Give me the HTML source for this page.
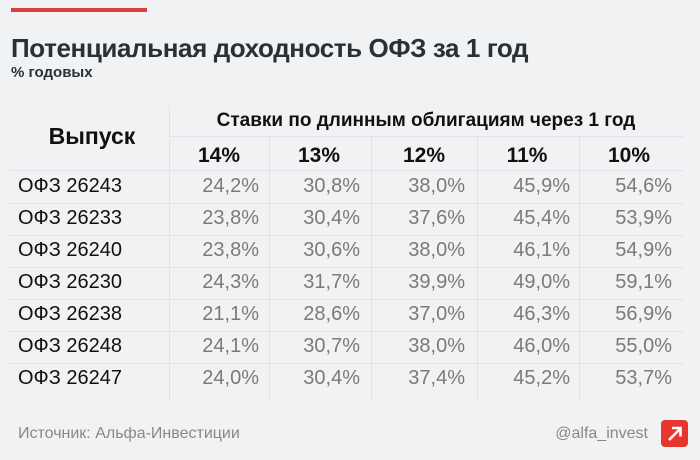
<!DOCTYPE html>
<html><head><meta charset="utf-8"><style>
body{margin:0;width:700px;height:460px;background:#f1f2f4;font-family:"Liberation Sans","DejaVu Sans",sans-serif;position:relative;overflow:hidden}
.a{position:absolute;white-space:nowrap}
.vl{position:absolute;width:1px;background:#e2e3e6}
.hl{position:absolute;height:1px;background:#e2e3e6}
.v{position:absolute;text-align:right;width:92px;font-size:20px;color:#7a7a7a}
.l{position:absolute;left:18px;font-size:20px;color:#111}
.h{position:absolute;text-align:center;width:100px;font-size:21px;font-weight:bold;color:#111;top:144px}
</style></head><body>
<div class="a" style="left:11px;top:8px;width:136px;height:4px;background:#d9423c"></div>
<div class="a" style="left:11px;top:33px;font-size:26px;font-weight:bold;color:#2b2f36;letter-spacing:-0.4px">Потенциальная доходность ОФЗ за 1 год</div>
<div class="a" style="left:11px;top:64px;font-size:15px;font-weight:bold;color:#2b2f36">% годовых</div>
<div class="vl" style="left:169px;top:106px;height:296px"></div>
<div class="vl" style="left:269px;top:136px;height:266px"></div>
<div class="vl" style="left:371px;top:136px;height:266px"></div>
<div class="vl" style="left:477px;top:136px;height:266px"></div>
<div class="vl" style="left:579px;top:136px;height:266px"></div>
<div class="hl" style="left:169px;top:136px;width:514px"></div>
<div class="hl" style="left:10px;top:170px;width:673px"></div>
<div class="hl" style="left:10px;top:203px;width:673px"></div>
<div class="hl" style="left:10px;top:235px;width:673px"></div>
<div class="hl" style="left:10px;top:267px;width:673px"></div>
<div class="hl" style="left:10px;top:299px;width:673px"></div>
<div class="hl" style="left:10px;top:331px;width:673px"></div>
<div class="hl" style="left:10px;top:363px;width:673px"></div>
<div class="a" style="left:169px;width:514px;text-align:center;top:110px;font-size:19px;font-weight:bold;color:#111">Ставки по длинным облигациям через 1 год</div>
<div class="a" style="left:10px;width:164px;text-align:center;top:123px;font-size:23px;font-weight:bold;color:#111">Выпуск</div>
<div class="h" style="left:169px">14%</div>
<div class="h" style="left:269px">13%</div>
<div class="h" style="left:374px">12%</div>
<div class="h" style="left:477px">11%</div>
<div class="h" style="left:579px">10%</div>
<div class="l" style="top:175px">ОФЗ 26243</div><div class="v" style="left:167px;top:175px">24,2%</div><div class="v" style="left:268px;top:175px">30,8%</div><div class="v" style="left:373px;top:175px">38,0%</div><div class="v" style="left:478px;top:175px">45,9%</div><div class="v" style="left:580px;top:175px">54,6%</div>
<div class="l" style="top:207px">ОФЗ 26233</div><div class="v" style="left:167px;top:207px">23,8%</div><div class="v" style="left:268px;top:207px">30,4%</div><div class="v" style="left:373px;top:207px">37,6%</div><div class="v" style="left:478px;top:207px">45,4%</div><div class="v" style="left:580px;top:207px">53,9%</div>
<div class="l" style="top:239px">ОФЗ 26240</div><div class="v" style="left:167px;top:239px">23,8%</div><div class="v" style="left:268px;top:239px">30,6%</div><div class="v" style="left:373px;top:239px">38,0%</div><div class="v" style="left:478px;top:239px">46,1%</div><div class="v" style="left:580px;top:239px">54,9%</div>
<div class="l" style="top:271px">ОФЗ 26230</div><div class="v" style="left:167px;top:271px">24,3%</div><div class="v" style="left:268px;top:271px">31,7%</div><div class="v" style="left:373px;top:271px">39,9%</div><div class="v" style="left:478px;top:271px">49,0%</div><div class="v" style="left:580px;top:271px">59,1%</div>
<div class="l" style="top:303px">ОФЗ 26238</div><div class="v" style="left:167px;top:303px">21,1%</div><div class="v" style="left:268px;top:303px">28,6%</div><div class="v" style="left:373px;top:303px">37,0%</div><div class="v" style="left:478px;top:303px">46,3%</div><div class="v" style="left:580px;top:303px">56,9%</div>
<div class="l" style="top:335px">ОФЗ 26248</div><div class="v" style="left:167px;top:335px">24,1%</div><div class="v" style="left:268px;top:335px">30,7%</div><div class="v" style="left:373px;top:335px">38,0%</div><div class="v" style="left:478px;top:335px">46,0%</div><div class="v" style="left:580px;top:335px">55,0%</div>
<div class="l" style="top:367px">ОФЗ 26247</div><div class="v" style="left:167px;top:367px">24,0%</div><div class="v" style="left:268px;top:367px">30,4%</div><div class="v" style="left:373px;top:367px">37,4%</div><div class="v" style="left:478px;top:367px">45,2%</div><div class="v" style="left:580px;top:367px">53,7%</div>
<div class="a" style="left:18px;top:425px;font-size:16px;color:#888">Источник: Альфа-Инвестиции</div>
<div class="a" style="right:52px;top:425px;font-size:16px;color:#888">@alfa_invest</div>
<div class="a" style="left:661px;top:420px;width:27px;height:27px;background:#e8362f;border-radius:4px">
<svg width="27" height="27"><path d="M8 20 L19 9 M11 8 H19.5 V16.5" stroke="#fff" stroke-width="2.6" fill="none"/></svg></div>
</body></html>
